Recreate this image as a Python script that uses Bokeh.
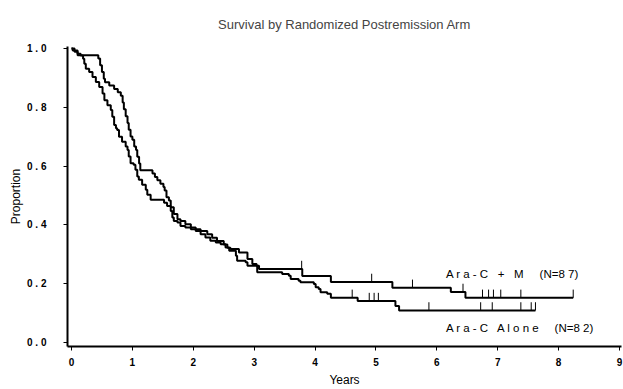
import numpy as np
from bokeh.plotting import figure
from bokeh.models import FixedTicker, Range1d, ColumnDataSource
from bokeh.core.properties import value
from bokeh.embed import file_html
from bokeh.resources import INLINE

# ---- data ----
plus_m_time = [0.00, 0.05, 0.10, 0.44, 0.47, 0.50, 0.53, 0.55, 0.62, 0.70, 0.76, 0.81, 0.84, 0.86,
               0.89, 0.92, 0.94, 0.97, 1.00, 1.03, 1.06, 1.08, 1.11, 1.13, 1.33, 1.37, 1.41, 1.46,
               1.51, 1.53, 1.56, 1.60, 1.63, 1.68, 1.74, 1.79, 1.87, 1.96, 2.04, 2.12, 2.23, 2.31,
               2.39, 2.50, 2.56, 2.61, 2.75, 2.89, 2.97, 3.04, 3.08, 3.79, 4.26, 5.27, 6.23, 6.47, 8.24]
plus_m_surv = [1.000, 0.989, 0.977, 0.966, 0.943, 0.920, 0.897, 0.885, 0.874, 0.862, 0.851, 0.839, 0.816, 0.793,
               0.770, 0.747, 0.724, 0.701, 0.690, 0.667, 0.655, 0.632, 0.609, 0.586, 0.575, 0.563, 0.552, 0.540,
               0.529, 0.517, 0.494, 0.483, 0.460, 0.437, 0.419, 0.413, 0.402, 0.391, 0.385, 0.379, 0.368, 0.356,
               0.345, 0.333, 0.322, 0.318, 0.306, 0.284, 0.267, 0.261, 0.250, 0.226, 0.206, 0.186, 0.172, 0.152, 0.152]
plus_m_censor = [3.78, 4.93, 5.60, 6.43, 6.75, 6.85, 6.93, 7.05, 7.38, 8.24]

alone_time = [0.00, 0.02, 0.10, 0.15, 0.19, 0.21, 0.235, 0.29, 0.345, 0.40, 0.455, 0.51, 0.54, 0.59,
              0.645, 0.67, 0.70, 0.73, 0.75, 0.78, 0.83, 0.89, 0.92, 0.94, 0.97, 1.02, 1.05, 1.08,
              1.106, 1.16, 1.22, 1.245, 1.30, 1.52, 1.57, 1.63, 1.656, 1.68, 1.74, 1.79, 1.87, 1.96,
              2.04, 2.12, 2.20, 2.28, 2.37, 2.45, 2.53, 2.59, 2.70, 2.72, 2.86, 2.89, 3.05, 3.46,
              3.57, 3.60, 3.73, 3.76, 3.98, 4.01, 4.06, 4.09, 4.20, 4.26, 4.70, 5.32, 5.38, 7.62]
alone_surv = [1.000, 0.993, 0.982, 0.976, 0.965, 0.948, 0.931, 0.920, 0.903, 0.886, 0.869, 0.847, 0.824, 0.807,
              0.791, 0.768, 0.740, 0.729, 0.723, 0.700, 0.683, 0.667, 0.655, 0.633, 0.610, 0.605, 0.588, 0.565,
              0.554, 0.537, 0.520, 0.503, 0.486, 0.475, 0.464, 0.447, 0.425, 0.413, 0.408, 0.396, 0.391, 0.385,
              0.379, 0.368, 0.357, 0.346, 0.340, 0.334, 0.323, 0.312, 0.295, 0.278, 0.273, 0.261, 0.239, 0.233,
              0.227, 0.216, 0.210, 0.205, 0.199, 0.188, 0.182, 0.171, 0.166, 0.152, 0.141, 0.124, 0.109, 0.109]
alone_censor = [4.61, 4.89, 4.97, 5.04, 5.87, 6.72, 6.91, 7.38, 7.55, 7.62]

x_ticks = [0, 1, 2, 3, 4, 5, 6, 7, 8, 9]
y_ticks = [0, 0.2, 0.4, 0.6, 0.8, 1]
y_tick_labels = ["0 . 0", "0 . 2", "0 . 4", "0 . 6", "0 . 8", "1 . 0"]

NB = "\u00a0"
label_plus_m = "A r a - C" + NB * 2 + " +" + NB * 2 + " M" + NB * 4 + " (N=8 7)"
label_alone = "A r a - C" + NB * 2 + " A l o n e" + NB * 4 + " (N=8 2)"
label_pos_x = [6.15, 6.15]
label_pos_y = [0.233, 0.05]

FONT = "Liberation Sans"

p = figure(width=623, height=389, output_backend="svg", toolbar_location=None,
           x_range=Range1d(-0.0657, 9.033), y_range=Range1d(-0.0135, 1.0068),
           min_border_left=67, min_border_right=2, min_border_top=46, min_border_bottom=41,
           title="Survival by Randomized Postremission Arm")
p.outline_line_color = None
p.xgrid.visible = False
p.ygrid.visible = False
p.background_fill_color = "white"
p.border_fill_color = "white"

p.title.align = "center"
p.title.text_font = FONT
p.title.text_font_size = "13px"
p.title.text_font_style = "normal"
p.title.standoff = 29

for ax in (p.xaxis[0], p.yaxis[0]):
    ax.axis_line_width = 2
    ax.axis_line_color = "black"
    ax.major_tick_line_color = "black"
    ax.major_tick_line_width = 1
    ax.minor_tick_line_color = None
    ax.major_tick_in = 0
    ax.major_tick_out = 4
    ax.major_label_text_font = FONT
    ax.major_label_text_font_size = "10px"
    ax.major_label_text_font_style = "bold"
    ax.major_label_text_color = "black"
    ax.axis_label_text_font = FONT
    ax.axis_label_text_font_size = "12px"
    ax.axis_label_text_font_style = "normal"
    ax.axis_label_text_color = "black"

p.xaxis[0].ticker = FixedTicker(ticks=x_ticks)
p.xaxis[0].axis_label = "Years"
p.xaxis[0].major_label_standoff = 7
p.xaxis[0].axis_label_standoff = 4

p.yaxis[0].ticker = FixedTicker(ticks=y_ticks)
p.yaxis[0].major_label_overrides = {t: s for t, s in zip(y_ticks, y_tick_labels)}
p.yaxis[0].axis_label = "Proportion"
p.yaxis[0].major_label_standoff = 17
p.yaxis[0].axis_label_standoff = 1

# KM curves
p.step(plus_m_time, plus_m_surv, mode="after", line_color="black", line_width=2)
p.step(alone_time, alone_surv, mode="after", line_color="black", line_width=2)

def censor_levels(times, surv, cens):
    idx = np.searchsorted(np.array(times), np.array(cens), side="right") - 1
    return [surv[i] for i in idx]

for tt, ss, cc in ((plus_m_time, plus_m_surv, plus_m_censor), (alone_time, alone_surv, alone_censor)):
    lv = censor_levels(tt, ss, cc)
    p.segment(x0=cc, y0=lv, x1=cc, y1=[v + 0.028 for v in lv], line_color="black", line_width=1)

src = ColumnDataSource(dict(x=label_pos_x, y=label_pos_y, t=[label_plus_m, label_alone]))
p.text(x="x", y="y", text="t", source=src, text_font=value(FONT), text_font_size="11.5px",
       text_baseline="middle", text_align="left", text_color="black")

open("out.html", "w").write(file_html(p, INLINE))
